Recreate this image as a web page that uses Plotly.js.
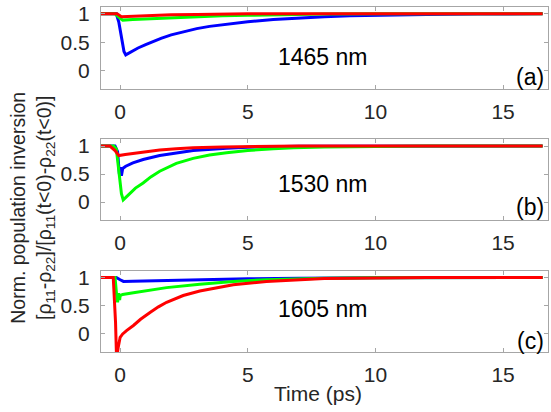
<!DOCTYPE html>
<html>
<head>
<meta charset="utf-8">
<script src="https://cdn.plot.ly/plotly-3.0.1.min.js"></script>
<style>html,body{margin:0;padding:0;background:#fff;}#chart{width:551px;height:412px;}</style>
</head>
<body>
<div id="chart"></div>
<script>
// ---- Panel (a): 1465 nm ----
const blueA_t = [-0.75, -0.15, -0.05, 0.05, 0.15, 0.22, 0.4, 0.7, 1.0, 1.3, 1.6, 2.0, 2.5, 3.0, 3.5, 4.2, 5.0, 6.0, 7.0, 8.0, 9.0, 10.0, 12.0, 14.0, 16.55];
const blueA_y = [1.0, 1.0, 0.85, 0.56, 0.34, 0.28, 0.33, 0.40, 0.46, 0.52, 0.57, 0.63, 0.69, 0.74, 0.78, 0.82, 0.86, 0.90, 0.93, 0.95, 0.965, 0.975, 0.99, 0.995, 1.0];
const greenA_t = [-0.75, -0.2, 0.0, 0.1, 0.5, 1.0, 2.0, 3.0, 4.0, 5.0, 6.0, 7.0, 8.0, 10.0, 16.55];
const greenA_y = [1.0, 1.0, 0.92, 0.89, 0.9, 0.91, 0.93, 0.95, 0.965, 0.975, 0.985, 0.99, 0.995, 1.0, 1.0];
const redA_t = [-0.75, -0.12, 0.05, 0.5, 1.0, 2.0, 3.0, 5.0, 16.55];
const redA_y = [1.0, 1.0, 0.95, 0.96, 0.97, 0.985, 0.99, 1.0, 1.0];

// ---- Panel (b): 1530 nm ----
const blueB_t = [-0.75, -0.2, -0.1, -0.03, 0.0, 0.05, 0.1, 0.22, 0.5, 0.9, 1.55, 2.2, 2.86, 4.17, 5.0, 7.0, 10.0, 16.55];
const blueB_y = [1.0, 1.0, 0.9, 0.5, 0.62, 0.47, 0.6, 0.64, 0.7, 0.76, 0.83, 0.88, 0.92, 0.96, 0.98, 0.995, 1.0, 1.0];
const greenB_t = [-0.75, -0.25, -0.15, -0.05, 0.05, 0.12, 0.3, 0.6, 0.9, 1.2, 1.55, 2.2, 2.86, 3.5, 4.17, 5.0, 6.0, 6.8, 8.0, 10.0, 12.0, 16.55];
const greenB_y = [1.0, 1.0, 0.95, 0.55, 0.15, 0.04, 0.12, 0.25, 0.34, 0.45, 0.55, 0.69, 0.78, 0.84, 0.88, 0.92, 0.95, 0.97, 0.985, 0.995, 1.0, 1.0];
const redB_t = [-0.75, -0.4, -0.2, -0.05, 0.2, 0.5, 0.9, 1.55, 2.2, 2.86, 4.0, 5.0, 7.0, 16.55];
const redB_y = [1.0, 1.0, 0.92, 0.83, 0.85, 0.87, 0.89, 0.93, 0.95, 0.97, 0.985, 0.99, 1.0, 1.0];

// ---- Panel (c): 1605 nm ----
const blueC_t = [-0.75, -0.15, 0.0, 0.13, 0.5, 1.0, 2.0, 3.0, 5.0, 7.0, 10.0, 16.55];
const blueC_y = [1.0, 1.0, 0.96, 0.93, 0.935, 0.94, 0.95, 0.96, 0.975, 0.985, 0.995, 1.0];
const greenC_t = [-0.75, -0.2, -0.14, -0.1, -0.06, -0.02, 0.0, 0.1, 0.52, 1.17, 1.82, 3.12, 4.43, 5.73, 6.9, 8.0, 10.0, 16.55];
const greenC_y = [1.0, 1.0, 0.7, 0.56, 0.72, 0.6, 0.68, 0.7, 0.73, 0.78, 0.82, 0.88, 0.93, 0.96, 0.975, 0.985, 0.995, 1.0];
const redC_t = [-0.75, -0.27, -0.18, -0.14, -0.08, 0.0, 0.1, 0.25, 0.52, 0.8, 1.17, 1.5, 1.82, 2.47, 3.12, 3.8, 4.43, 5.73, 6.9, 8.0, 10.0, 12.0, 16.55];
const redC_y = [1.0, 1.0, 0.2, -0.45, -0.25, -0.06, 0.0, 0.06, 0.15, 0.26, 0.38, 0.48, 0.56, 0.68, 0.76, 0.82, 0.87, 0.93, 0.96, 0.98, 0.99, 1.0, 1.0];

const panelLabels = ['1465 nm', '1530 nm', '1605 nm'];
const panelTags = ['(a)', '(b)', '(c)'];
const xTicks = [0, 5, 10, 15];
const yTicks = [0, 0.5, 1];
const yTickText = ['0', '0.5', '1'];

const colors = {blue: '#0000ff', green: '#00ff00', red: '#ff0000'};
const panels = [
  {ax: '', series: [[blueA_t, blueA_y, 'blue'], [greenA_t, greenA_y, 'green'], [redA_t, redA_y, 'red']]},
  {ax: '2', series: [[blueB_t, blueB_y, 'blue'], [greenB_t, greenB_y, 'green'], [redB_t, redB_y, 'red']]},
  {ax: '3', series: [[blueC_t, blueC_y, 'blue'], [greenC_t, greenC_y, 'green'], [redC_t, redC_y, 'red']]}
];

const traces = [];
panels.forEach(p => {
  p.series.forEach(s => {
    traces.push({
      x: s[0], y: s[1], type: 'scatter', mode: 'lines',
      xaxis: 'x' + p.ax, yaxis: 'y' + p.ax,
      line: {color: colors[s[2]], width: 3},
      showlegend: false, hoverinfo: 'skip'
    });
  });
});

const FONT = 'Liberation Sans, Arial, sans-serif';
const axColor = '#a6a6a6';
function xAx(anchor) {
  return {
    anchor: anchor, range: [-0.75, 16.76], tickvals: xTicks, ticktext: xTicks.map(String),
    showline: true, linecolor: axColor, linewidth: 1, mirror: 'ticks',
    ticks: 'inside', ticklen: 4, tickcolor: axColor, showgrid: false, zeroline: false,
    tickfont: {family: FONT, size: 21, color: '#262626'}, ticklabelstandoff: 4
  };
}
function yAx(anchor, dom) {
  return {
    anchor: anchor, domain: dom, range: [-0.32, 1.12], tickvals: yTicks, ticktext: yTickText,
    showline: true, linecolor: axColor, linewidth: 1, mirror: 'ticks',
    ticks: 'inside', ticklen: 4, tickcolor: axColor, showgrid: false, zeroline: false,
    tickfont: {family: FONT, size: 21, color: '#262626'}, ticklabelstandoff: 6
  };
}

const annotations = [];
const annY = [0.25, 0.33, 0.45];
const tagY = [-0.11, -0.09, -0.12];
['', '2', '3'].forEach((a, i) => {
  annotations.push({xref: 'x' + a, yref: 'y' + a, x: 7.95, y: annY[i], text: panelLabels[i],
    showarrow: false, xanchor: 'center', yanchor: 'middle', font: {family: FONT, size: 23, color: '#000'}});
  annotations.push({xref: 'x' + a, yref: 'y' + a, x: 16.7, y: tagY[i], text: panelTags[i],
    showarrow: false, xanchor: 'right', yanchor: 'middle', font: {family: FONT, size: 23, color: '#000'}});
});
annotations.push({xref: 'paper', yref: 'paper', x: 0.485, y: -0.119, text: 'Time (ps)',
  showarrow: false, xanchor: 'center', yanchor: 'middle', font: {family: FONT, size: 21, color: '#262626'}});
annotations.push({xref: 'paper', yref: 'paper', x: -0.153, y: 0.417,
  text: 'Norm. population inversion<br>[ρ<sub>11</sub>-ρ<sub>22</sub>]/[ρ<sub>11</sub>(t<0)-ρ<sub>22</sub>(t<0)]',
  textangle: -90, showarrow: false, xanchor: 'center', yanchor: 'middle',
  font: {family: FONT, size: 19.5, color: '#262626'}});

const layout = {
  width: 551, height: 412,
  margin: {l: 101, r: 3, t: 7, b: 60},
  paper_bgcolor: '#fff', plot_bgcolor: '#fff',
  font: {family: FONT, color: '#262626'},
  xaxis: xAx('y'), yaxis: yAx('x', [0.7623, 1]),
  xaxis2: xAx('y2'), yaxis2: yAx('x2', [0.3826, 0.6165]),
  xaxis3: xAx('y3'), yaxis3: yAx('x3', [0, 0.2357]),
  annotations: annotations
};

Plotly.newPlot('chart', traces, layout, {staticPlot: true, displayModeBar: false});
</script>
</body>
</html>
